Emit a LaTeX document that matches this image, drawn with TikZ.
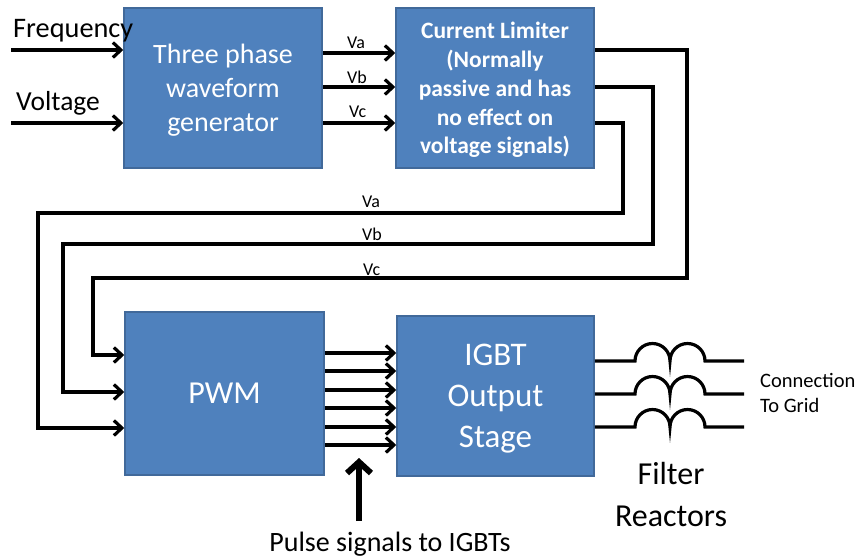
\documentclass[tikz,border=0pt]{standalone}
\usepackage{fontspec}
\setmainfont{Carlito}
\usetikzlibrary{arrows.meta}
\definecolor{boxfill}{HTML}{4F81BD}
\definecolor{boxline}{HTML}{41699A}
\begin{document}
\begin{tikzpicture}[x=1pt,y=-1pt,
  block/.style={draw=boxline, line width=1.5pt, fill=boxfill, text=white, align=center, inner sep=0pt},
  wire/.style={line width=3.2pt},
  arr/.style={wire, -{Straight Barb[length=8pt,width=15pt]}},
  lbl/.style={anchor=base west, inner sep=0pt, font=\fontsize{18}{22}\selectfont}]
\useasboundingbox (0,0) rectangle (859,558);
% blocks
\node[block, text depth=0pt, minimum width=198pt, minimum height=160pt, font=\fontsize{28}{34}\selectfont] (tpw) at (223,88) {Three phase\\waveform\\generator};
\node[block, text depth=0pt, minimum width=198pt, minimum height=160pt, font=\bfseries\fontsize{23.5}{28.8}\selectfont] (cl) at (495,88) {Current Limiter\\(Normally\\passive and has\\no effect on\\voltage signals)};
\node[block, minimum width=199pt, minimum height=163pt, font=\fontsize{32}{39}\selectfont] (pwm) at (224.5,393.5) {PWM};
\node[block, text depth=0pt, minimum width=197pt, minimum height=160pt, font=\fontsize{33}{41}\selectfont] (igbt) at (495.5,396) {IGBT\\Output\\Stage};
% inputs
\coordinate (fin) at (11,50);
\coordinate (vin) at (11,123);
\draw[arr] (fin) -- (fin -| tpw.west);
\draw[arr] (vin) -- (vin -| tpw.west);
\node[anchor=base west, inner sep=0pt, font=\fontsize{28.3}{33}\selectfont] (tf) at (13,37) {Frequency};
\node[anchor=base west, inner sep=0pt, font=\fontsize{27.5}{33}\selectfont] (tv) at (16,110) {Voltage};
% generator -> limiter
\coordinate (ya) at (0,53);
\coordinate (yb) at (0,87);
\coordinate (yc) at (0,123);
\draw[arr] (tpw.east |- ya) -- (cl.west |- ya);
\draw[arr] (tpw.east |- yb) -- (cl.west |- yb);
\draw[arr] (tpw.east |- yc) -- (cl.west |- yc);
\node[lbl] (la1) at (347,48) {Va};
\node[lbl] (lb1) at (347,83) {Vb};
\node[lbl] (lc1) at (349,117) {Vc};
% limiter -> PWM
\coordinate (o1) at (0,50);
\coordinate (o2) at (0,87);
\coordinate (o3) at (0,123);
\coordinate (rA) at (687,278);
\coordinate (lA) at (93,355);
\coordinate (rB) at (653,244);
\coordinate (lB) at (63,392);
\coordinate (rC) at (623,213);
\coordinate (lC) at (38,428);
\draw[arr] (cl.east |- o1) -| (rA) -| (lA) -- (lA -| pwm.west);
\draw[arr] (cl.east |- o2) -| (rB) -| (lB) -- (lB -| pwm.west);
\draw[arr] (cl.east |- o3) -| (rC) -| (lC) -- (lC -| pwm.west);
\node[lbl] (la2) at (362,207) {Va};
\node[lbl] (lb2) at (362,240) {Vb};
\node[lbl] (lc2) at (363,275) {Vc};
% PWM -> IGBT
\foreach \y [count=\i] in {353,371,390,408,427,445}{
  \coordinate (p\i) at (0,\y);
  \draw[arr] (pwm.east |- p\i) -- (igbt.west |- p\i);
}
% pulse arrow
\coordinate (pb) at (359,521);
\coordinate (pt) at (359,458);
\draw[line width=6pt, -{Straight Barb[length=11pt,width=24pt]}] (pb) -- (pt);
\node[anchor=base, inner sep=0pt, font=\fontsize{28}{33}\selectfont] (tp) at (390,551) {Pulse signals to IGBTs};
% filter reactors
\foreach \y [count=\i] in {361,394,427}{
  \coordinate (g\i) at (744,\y);
  \coordinate (q\i) at (635,\y);
  \draw[wire] (igbt.east |- g\i) -- (q\i) arc[start angle=180,end angle=0,radius=17.5pt] arc[start angle=180,end angle=0,radius=17.5pt] -- (g\i);
}
\node[anchor=base, inner sep=0pt, align=center, font=\fontsize{32}{42}\selectfont] (tfr) at (671,526) {Filter\\Reactors};
\node[anchor=base west, inner sep=0pt, align=left, font=\fontsize{20.5}{25}\selectfont] (tg) at (760,412) {Connection\\To Grid};
\end{tikzpicture}
\end{document}
